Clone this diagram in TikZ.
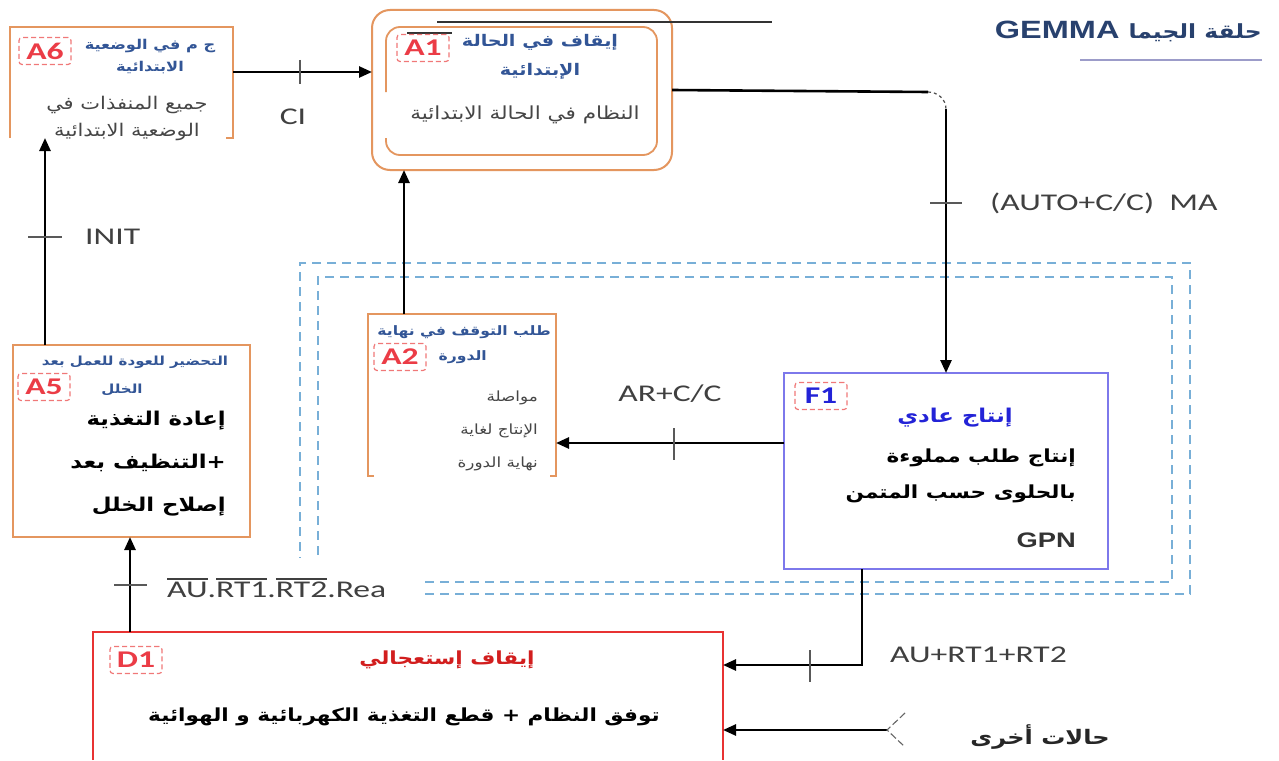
\documentclass[tikz,border=0pt]{standalone}
\usepackage{fontspec}
\usetikzlibrary{arrows.meta}
\TeXXeTstate=1
\newfontfamily\latf{Carlito}[FakeStretch=1.4]
\newfontfamily\arf[Script=Arabic,FakeStretch=1.2]{DejaVu Sans}
\newfontfamily\arialf{Liberation Sans}[FakeStretch=1.3]
\newcommand\rtl[1]{\beginR #1\endR}
\newcommand\fsz[2]{\fontsize{#1}{#2}\selectfont}
\newcommand\ovl[1]{\leavevmode\vbox{\hrule height 1.4pt\kern 2.5pt\hbox{#1}}}
\definecolor{boxor}{RGB}{228,150,95}
\definecolor{lblred}{RGB}{235,60,70}
\definecolor{lbldash}{RGB}{240,120,120}
\definecolor{ttlblue}{RGB}{50,85,150}
\definecolor{f1col}{RGB}{125,120,235}
\definecolor{f1title}{RGB}{35,35,215}
\definecolor{d1col}{RGB}{232,50,50}
\definecolor{d1title}{RGB}{210,30,30}
\definecolor{bdashc}{RGB}{120,175,215}
\definecolor{txtgray}{RGB}{70,70,70}
\definecolor{gemblue}{RGB}{40,65,110}
\tikzset{
  plain/.style={anchor=north west, inner sep=0, outer sep=0},
  orline/.style={draw=boxor, line width=1.8pt},
  bdash/.style={draw=bdashc, line width=1.3pt, dash pattern=on 9pt off 6pt},
  arr/.style={line width=2.6pt, -{Triangle[length=13pt,width=11pt]}},
  tickm/.style={line width=1.2pt, draw=black!65},
  lbl/.style={draw=lbldash, line width=1.2pt, dash pattern=on 5pt off 3pt, rounded corners=3pt,
     text=lblred, font=\latf\bfseries\fsz{24}{24}, minimum width=52, minimum height=27, inner sep=0},
  ttl/.style={text=ttlblue, font=\arf\bfseries\fsz{13.5}{22}, align=center, inner sep=0},
  bodyg/.style={text=txtgray, font=\arf\fsz{17.5}{27}, align=center, inner sep=0},
  bodyk/.style={text=black, font=\arf\bfseries\fsz{19}{43}, align=right, inner sep=0},
  latl/.style={text=black!75, font=\latf\fsz{24}{24}, inner sep=0},
}
\begin{document}
\begin{tikzpicture}[x=1pt,y=-1pt]
\useasboundingbox (0,0) rectangle (1279,760);
\fill[white] (0,0) rectangle (1279,760);

% dashed double frame
\draw[bdash] (425,594) -- (1190,594) -- (1190,263) -- (300,263) -- (300,558);
\draw[bdash] (425,582) -- (1172,582) -- (1172,277) -- (318,277) -- (318,558);

% title
\node[inner sep=0, text=gemblue, anchor=east] (title) at (1262,31)
  {\arialf\bfseries\fsz{25}{25}GEMMA \arf\fsz{19.5}{25}\rtl{حلقة الجيما}};
\draw[line width=2pt, draw=gray!70!blue!60] (title.south east |- 0,60) -- ++(-182,0);

% A6
\node[plain, minimum width=223, minimum height=111] (A6) at (10,27) {};
\draw[orline] (A6.south west) -- (A6.north west) -- (A6.north east) -- (A6.south east) -- ++(-7,0);
\node[lbl] (A6l) at (45,51) {A6};
\node[ttl] (A6t) at (150,57) {\rtl{ج م في الوضعية}\\\rtl{الابتدائية}};
\node[bodyg] (A6b) at (127,118) {\rtl{جميع المنفذات في}\\\rtl{الوضعية الابتدائية}};

% A1
\node[plain, draw=boxor, line width=2pt, rounded corners=18pt, minimum width=300, minimum height=160] (A1) at (372,10) {};
\draw[orline, rounded corners=14pt] (386,92) -- (386,27) -- (657,27) -- (657,155) -- (386,155) -- (386,138);
\draw[line width=1.3pt, black!80] (437,22) -- (772,22);
\draw[line width=1.3pt, black!80] (407,33) -- (452,33);
\node[lbl] (A1l) at (423,48) {A1};
\node[ttl, font=\arf\bfseries\fsz{16}{29}] (A1t) at (540,57) {\rtl{إيقاف في الحالة}\\\rtl{الإبتدائية}};
\node[bodyg, font=\arf\fsz{18}{27}] (A1b) at (525,115) {\rtl{النظام في الحالة الابتدائية}};

% A2
\node[plain, minimum width=188, minimum height=162] (A2) at (368,314) {};
\draw[orline] ([xshift=6pt]A2.south west) -- (A2.south west) -- (A2.north west) -- (A2.north east) -- (A2.south east) -- ++(-6,0);
\node[lbl] (A2l) at (400,357) {A2};
\node[ttl, anchor=east, font=\arf\bfseries\fsz{13}{22}] (A2t1) at (551,332) {\rtl{طلب التوقف في نهاية}};
\node[ttl, anchor=east, font=\arf\bfseries\fsz{13}{22}] (A2t2) at (487,357) {\rtl{الدورة}};
\node[bodyg, align=right, anchor=north east, font=\arf\fsz{14}{33}] (A2b) at (538,391) {\rtl{مواصلة}\\\rtl{الإنتاج لغاية}\\\rtl{نهاية الدورة}};

% A5
\node[plain, draw=boxor, line width=1.8pt, minimum width=237, minimum height=192] (A5) at (13,345) {};
\node[lbl] (A5l) at (44,387) {A5};
\node[ttl, font=\arf\bfseries\fsz{12.5}{22}] (A5t1) at (135,362) {\rtl{التحضير للعودة للعمل بعد}};
\node[ttl, font=\arf\bfseries\fsz{12.5}{22}] (A5t2) at (122,390) {\rtl{الخلل}};
\node[bodyk, anchor=north east] (A5b) at (226,411) {\rtl{إعادة التغذية}\\\rtl{+التنظيف بعد}\\\rtl{إصلاح الخلل}};

% F1
\node[plain, draw=f1col, line width=1.6pt, minimum width=324, minimum height=196] (F1) at (784,373) {};
\node[lbl, text=f1title] (F1l) at (821,396) {F1};
\node[text=f1title, font=\arf\bfseries\fsz{19}{24}, inner sep=0] (F1t) at (955,418) {\rtl{إنتاج عادي}};
\node[bodyk, anchor=north east, font=\arf\bfseries\fsz{18}{36}] (F1b) at (1076,449) {\rtl{إنتاج طلب مملوءة}\\\rtl{بالحلوى حسب المتمن}};
\node[inner sep=0, anchor=east, text=black!80, font=\arialf\bfseries\fsz{21}{24}] (GPN) at (1076,540) {GPN};

% D1
\node[plain, minimum width=630, minimum height=128] (D1) at (93,632) {};
\draw[draw=d1col, line width=1.8pt] (D1.south west) -- (D1.north west) -- (D1.north east) -- (D1.south east);
\node[lbl] (D1l) at (136,660) {D1};
\node[text=d1title, font=\arf\bfseries\fsz{18}{24}, inner sep=0] (D1t) at (447,660) {\rtl{إيقاف إستعجالي}};
\node[text=black, font=\arf\bfseries\fsz{18}{24}, inner sep=0] (D1b) at (404,717) {\rtl{توفق النظام + قطع التغذية الكهربائية و الهوائية}};

% connectors
\draw[arr] (A6.east |- 0,72) -- (A1.west |- 0,72);
\draw[tickm] (300,60) -- (300,84);
\node[latl] (CI) at (293,117) {CI};

\coordinate (k1) at (928,92);
\coordinate (k2) at (946,109);
\draw[line width=2.6pt] (A1.east |- 0,90) -- (k1);
\draw[line width=1.2pt, dashed, black!70] (k1) to[out=0,in=90] (k2);
\draw[arr] (k2) -- (F1.north);
\draw[tickm] (930,203) -- (962,203);
\node[latl, anchor=west] (MA) at (990,203) {(AUTO+C/C)\ \ MA};

\draw[arr] (F1.west |- 0,443) -- (A2.east |- 0,443);
\draw[tickm] (674,428) -- (674,460);
\node[latl] (ARCC) at (670,394) {AR+C/C};

\draw[arr] (A2.north -| 404,0) -- (A1.south -| 404,0);

\draw[arr] (A5.north -| 45,0) -- (A6.south -| 45,0);
\draw[tickm] (28,237) -- (62,237);
\node[latl, anchor=west] (INIT) at (85,237) {INIT};

\draw[arr] (D1.north -| 130,0) -- (A5.south -| 130,0);
\draw[tickm] (114,585) -- (147,585);
\node[latl, anchor=west] (REA) at (167,588) {\ovl{AU}.\ovl{RT1}.\ovl{RT2}.Rea};

\draw[arr] (F1.south -| 862,0) |- (D1.east |- 0,665);
\draw[tickm] (810,650) -- (810,682);
\node[latl, anchor=west] (AURT) at (890,655) {AU+RT1+RT2};

\coordinate (oth) at (887,730);
\draw[arr] (oth) -- (D1.east |- oth);
\draw[line width=1.1pt, black!60, dash pattern=on 7pt off 3pt] (905,713) -- (oth) -- (905,747);
\node[inner sep=0, text=black!85, font=\arf\bfseries\fsz{20}{24}] (oth2) at (1040,737) {\rtl{حالات أخرى}};
\end{tikzpicture}
\end{document}
